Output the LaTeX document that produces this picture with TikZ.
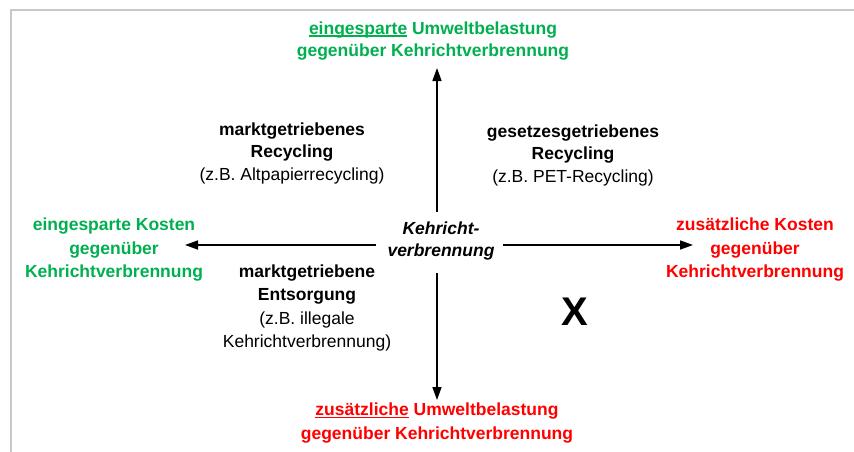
\documentclass[tikz,border=0pt]{standalone}
\usepackage{fontspec}
\setmainfont{Liberation Sans}
\usetikzlibrary{arrows.meta}
\definecolor{pgreen}{RGB}{0,176,80}
\definecolor{pred}{RGB}{255,0,0}
\definecolor{framegray}{RGB}{200,200,200}
\newcommand\myul[1]{\setbox0\hbox{#1}\rlap{\rule[-3pt]{\wd0}{1.8pt}}\box0\relax}
\begin{document}
\begin{tikzpicture}[x=1pt,y=-1pt,
  lbl/.style={align=center, inner sep=0pt, font=\fontsize{17.5}{22.5}\selectfont\bfseries},
  lbltall/.style={align=center, inner sep=0pt, font=\fontsize{17.5}{23.5}\selectfont\bfseries},
  axis/.style={line width=1.6pt, -{Triangle[length=13pt,width=9pt]}}]
\useasboundingbox (0,0) rectangle (854,452);
\fill[white] (0,0) rectangle (854,452);
\draw[framegray, line width=2.2pt] (11,452) -- (11,10) -- (854,10);

% axis ends
\coordinate (ct) at (437,212);
\coordinate (cb) at (437,273);
\coordinate (cl) at (376,245);
\coordinate (cr) at (503,245);
\coordinate (tt) at (437,68);
\coordinate (tb) at (437,400);
\coordinate (tl) at (185,245);
\coordinate (tr) at (693,245);

\node[lbl, text=pgreen] (top) at (433,41) {\myul{eingesparte} Umweltbelastung\\gegenüber Kehrichtverbrennung};
\node[lbl, text=pred, font=\fontsize{17.5}{24}\selectfont\bfseries] (bot) at (437,423) {\myul{zusätzliche} Umweltbelastung\\gegenüber Kehrichtverbrennung};
\node[lbltall, text=pgreen] (left) at (114,250) {eingesparte Kosten\\gegenüber\\Kehrichtverbrennung};
\node[lbltall, text=pred] (right) at (755,250) {zusätzliche Kosten\\gegenüber\\Kehrichtverbrennung};

\node[lbl, font=\fontsize{17.5}{22}\selectfont\bfseries\itshape] (c) at (441,241) {Kehricht-\\verbrennung};

\node[lbl] (q2) at (292,153) {marktgetriebenes\\Recycling\\{\mdseries (z.B. Altpapierrecycling)}};
\node[lbl] (q1) at (573,155) {gesetzesgetriebenes\\Recycling\\{\mdseries (z.B. PET-Recycling)}};
\node[lbltall] (q3) at (307,308) {marktgetriebene\\Entsorgung\\{\mdseries (z.B. illegale}\\{\mdseries Kehrichtverbrennung)}};
\node[inner sep=0pt, font=\fontsize{40}{40}\selectfont\bfseries] (x) at (575,312) {X};

\draw[axis] (ct) -- (tt);
\draw[axis] (cb) -- (tb);
\draw[axis] (cl) -- (tl);
\draw[axis] (cr) -- (tr);
\end{tikzpicture}
\end{document}
